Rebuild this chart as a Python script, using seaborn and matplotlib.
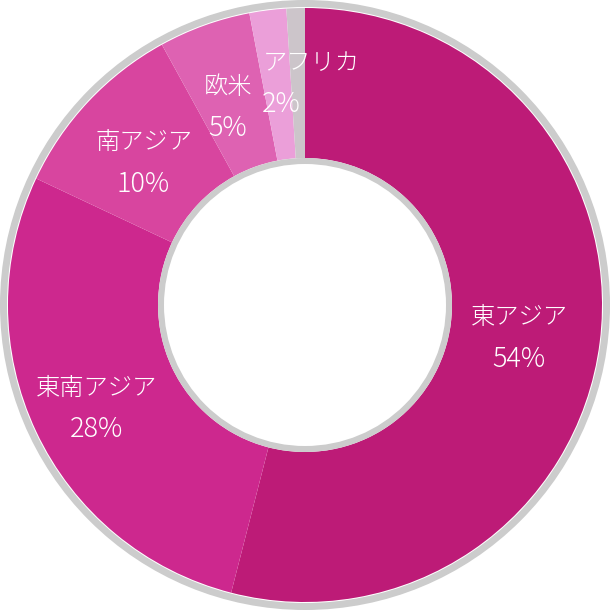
"""Donut chart: share by region."""

import matplotlib

matplotlib.use("Agg")

import matplotlib.pyplot as plt
from matplotlib.patches import Circle
import numpy as np
import seaborn as sns

REGIONS = ["東アジア", "東南アジア", "南アジア", "欧米", "アフリカ", ""]
SHARES = [54, 28, 10, 5, 2, 1]
COLORS = ["#BD1B77", "#CD288E", "#D8459F", "#DE62B2", "#EB9FD9", "#CCC5CA"]
RING_GRAY = "#CCCCCC"

# geometry in pixel-like data units (figure is 610 px wide)
HALF = 305
R_OUT = 297
R_IN = 147
LABEL_R = 216
LABEL_DY = -6
LINE_GAP = 20.5
PX = 0.72  # points per pixel at dpi=100


def main() -> None:
    sns.set_style("white")
    plt.rcParams["font.family"] = ["Noto Sans CJK JP", "DejaVu Sans"]

    fig = plt.figure(figsize=(6.1, 6.1), dpi=100)
    ax = fig.add_axes([0, 0, 1, 1])

    wedges, _ = ax.pie(
        SHARES,
        colors=COLORS,
        radius=R_OUT,
        startangle=90,
        counterclock=False,
        wedgeprops={"width": R_OUT - R_IN, "linewidth": 0},
        center=(0, 0),
        frame=True,
    )
    ax.set_xlim(-HALF, HALF)
    ax.set_ylim(-HALF, HALF)
    ax.set_aspect("equal")
    ax.axis("off")

    # gray rims on the outer and inner edges
    ax.add_patch(Circle((0, 0), 301.5, fill=False, edgecolor=RING_GRAY, linewidth=7 * PX))
    ax.add_patch(Circle((0, 0), 144, fill=False, edgecolor=RING_GRAY, linewidth=6 * PX))

    for wedge, name, share in zip(wedges, REGIONS, SHARES):
        if not name:
            continue
        mid = np.deg2rad((wedge.theta1 + wedge.theta2) / 2)
        r = LABEL_R
        ha = "center"
        dx = 0
        if name == "東南アジア":
            r = 230
        if name == "アフリカ":
            r = 229
            ha = "left"
            dx = -14
        x = r * np.cos(mid) + dx - (4 if name in ("南アジア", "欧米") else 0)
        y = r * np.sin(mid) + LABEL_DY
        ax.text(x, y + LINE_GAP, name, color="white", fontsize=17.5,
                fontweight="light", ha=ha, va="center")
        ax.text(x, y - LINE_GAP, f"{share}%", color="white", fontsize=19.5,
                fontweight="light", ha=ha, va="center")

    fig.savefig("out.png", dpi=100, facecolor="white")
    plt.close(fig)


if __name__ == "__main__":
    main()
